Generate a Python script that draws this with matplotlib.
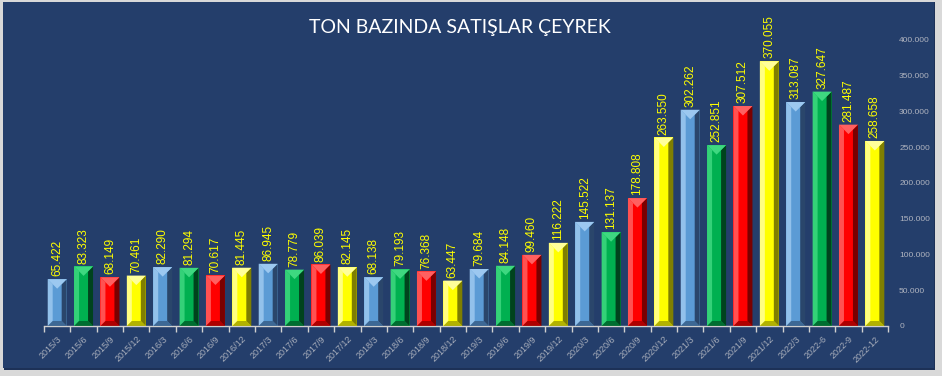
import numpy as np
import matplotlib
matplotlib.use("Agg")
import matplotlib.pyplot as plt
from matplotlib.patches import Polygon, Rectangle

# veri: ceyrek bazinda satislar (ton)
quarters = ["2015/3", "2015/6", "2015/9", "2015/12",
            "2016/3", "2016/6", "2016/9", "2016/12",
            "2017/3", "2017/6", "2017/9", "2017/12",
            "2018/3", "2018/6", "2018/9", "2018/12",
            "2019/3", "2019/6", "2019/9", "2019/12",
            "2020/3", "2020/6", "2020/9", "2020/12",
            "2021/3", "2021/6", "2021/9", "2021/12",
            "2022/3", "2022-6", "2022-9", "2022-12"]
tons = [65422, 83323, 68149, 70461,
        82290, 81294, 70617, 81445,
        86945, 78779, 86039, 82145,
        68138, 79193, 76368, 63447,
        79684, 84148, 99460, 116222,
        145522, 131137, 178808, 263550,
        302262, 252851, 307512, 370055,
        313087, 327647, 281487, 258658]
y_ticks = [0, 50000, 100000, 150000, 200000, 250000, 300000, 350000, 400000]

# renkler: (ana, acik, koyu)
palette = [("#5b9bd5", "#9cc8f0", "#2a466b"),
           ("#00b050", "#3ed880", "#00431d"),
           ("#ff0000", "#ff6060", "#7a0000"),
           ("#ffff00", "#ffff9a", "#7f7f00")]

bg = "#243e6b"


def fmt(v):
    return f"{v:,.0f}".replace(",", ".")


fig = plt.figure(figsize=(9.42, 3.76), dpi=100)
fig.patch.set_facecolor("#d9d9d9")
fig.patches.append(Rectangle((0.004, 0.016), 0.989, 0.978, transform=fig.transFigure,
                             facecolor="#1d3157", edgecolor="none", zorder=-2))
fig.patches.append(Rectangle((0.003, 0.02), 0.988, 0.975, transform=fig.transFigure,
                             facecolor=bg, edgecolor="none", zorder=-1))

ax = fig.add_axes([0.0467, 0.133, 0.896, 0.761])
ax.set_facecolor("none")

x = np.arange(len(quarters))
w = 0.72
cols = [palette[i % 4][0] for i in range(len(x))]
bars = ax.bar(x, tons, width=w, color=cols, zorder=2)

ax.set_xlim(-0.5, len(x) - 0.5)
ax.set_ylim(0, 400000)
fig.canvas.draw()

# piksel -> veri donusumu (bevel icin)
px_x = (ax.transData.transform((1, 0))[0] - ax.transData.transform((0, 0))[0])
px_y = (ax.transData.transform((0, 100000))[1] - ax.transData.transform((0, 0))[1]) / 100000
bx = 5.0 / px_x
by = 5.0 / px_y
bt = (w * px_x / 2) / px_y

for i, b in enumerate(bars):
    main, light, dark = palette[i % 4]
    x0 = b.get_x()
    x1 = x0 + b.get_width()
    xc = x0 + b.get_width() / 2
    h = b.get_height()
    ax.add_patch(Polygon([(x0, 0), (x0, h), (x0 + bx, h - by), (x0 + bx, by)],
                         facecolor=light, edgecolor="none", zorder=3, alpha=0.85))
    ax.add_patch(Polygon([(x1, 0), (x1, h), (x1 - bx, h - by), (x1 - bx, by)],
                         facecolor=dark, edgecolor="none", zorder=3))
    ax.add_patch(Polygon([(x0, 0), (x1, 0), (x1 - bx, by), (x0 + bx, by)],
                         facecolor=dark, edgecolor="none", zorder=3, alpha=0.6))
    ax.add_patch(Polygon([(x0, h), (x1, h), (xc, h - bt)],
                         facecolor=light, edgecolor="none", zorder=4))
    ax.text(xc, h + 4000, fmt(tons[i]), rotation=90, ha="center", va="bottom",
            color="#ffff00", fontsize=8.5, family="Liberation Sans", zorder=5)

for s in ["top", "left", "right"]:
    ax.spines[s].set_visible(False)
ax.spines["bottom"].set_color("#d0d0d0")
ax.spines["bottom"].set_linewidth(1.0)

ax.yaxis.tick_right()
ax.set_yticks(y_ticks)
ax.set_yticklabels([fmt(v) for v in y_ticks], color="#b0b4c0", fontsize=6,
                   family="Liberation Sans")
ax.tick_params(axis="y", length=0, pad=8)

ax.set_xticks(x)
ax.set_xticklabels(quarters, rotation=45, ha="right", rotation_mode="anchor",
                   color="#a8aebb", fontsize=6.5, family="Liberation Sans")
ax.tick_params(axis="x", length=0, pad=6)
ax.set_xticks(np.arange(len(x) + 1) - 0.5, minor=True)
ax.tick_params(axis="x", which="minor", length=4, color="#d0d0d0", width=1)

fig.text(0.488, 0.926, "TON BAZINDA SATIŞLAR ÇEYREK", ha="center", va="center",
         color="white", fontsize=14, family="Lato")

fig.savefig("out.png", dpi=100, facecolor=fig.get_facecolor())
